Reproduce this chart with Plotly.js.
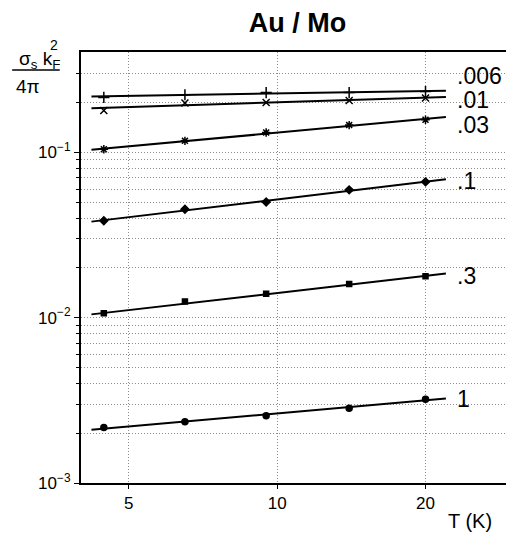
<!DOCTYPE html>
<html><head><meta charset="utf-8">
<script src="https://cdn.plot.ly/plotly-3.0.1.min.js"></script>
<style>html,body{margin:0;padding:0;overflow:hidden;background:#fff}</style>
</head><body><div id="chart" style="width:506px;height:535px"></div>
<script>
// Temperatures (K)
var T = [4.45, 6.5, 9.5, 14, 20];
var fitT = [4.2, 22];
// series labels
var seriesLabels = ['.006', '.01', '.03', '.1', '.3', '1'];
// measured values
var v006 = [0.215, 0.223, 0.230, 0.230, 0.233];
var v01  = [0.179, 0.199, 0.200, 0.206, 0.213];
var v03  = [0.1045, 0.1174, 0.1318, 0.1462, 0.1574];
var v1   = [0.0386, 0.0453, 0.0501, 0.0593, 0.0663];
var v3   = [0.01065, 0.01254, 0.01394, 0.01596, 0.01778];
var v10  = [0.00217, 0.00235, 0.002555, 0.00283, 0.00321];
// fitted lines (values at fitT)
var f006 = [0.218, 0.236];
var f01  = [0.185, 0.216];
var f03  = [0.1036, 0.1634];
var f1   = [0.0381, 0.0688];
var f3   = [0.01047, 0.01848];
var f10  = [0.00210, 0.00324];
// label anchor values
var labelY = [0.288, 0.208, 0.1465, 0.0675, 0.01796, 0.00321];
var labelT = 23.0;
// axis ticks
var xTicks = [5, 10, 20];
var xTickText = ['5', '10', '20'];
var yTicks = [0.001, 0.01, 0.1];
var yTickText = ['10<sup>\u22123</sup>', '10<sup>\u22122</sup>', '10<sup>\u22121</sup>'];
var yMinor = [0.002,0.003,0.004,0.005,0.006,0.007,0.008,0.009,
              0.02,0.03,0.04,0.05,0.06,0.07,0.08,0.09,0.2,0.3];

var vals = [v006, v01, v03, v1, v3, v10];
var fits = [f006, f01, f03, f1, f3, f10];
var symbols = ['cross-thin', 'x-thin', 'asterisk-open', 'diamond', 'square', 'circle'];
var sizes = [8, 7, 7, 6, 5, 6];

var traces = [];
for (var i = 0; i < vals.length; i++) {
  traces.push({x: fitT, y: fits[i], mode: 'lines', type: 'scatter',
    line: {color: '#000', width: 2}, hoverinfo: 'skip', showlegend: false});
  traces.push({x: T, y: vals[i], mode: 'markers', type: 'scatter', name: seriesLabels[i],
    marker: {symbol: symbols[i], size: sizes[i], color: '#000',
      line: {color: '#000', width: 1.5}}, showlegend: false});
}

var FONT = 'Liberation Sans, Arial, Helvetica, sans-serif';
var annotations = [];
for (var j = 0; j < seriesLabels.length; j++) {
  annotations.push({x: Math.log10(labelT), y: Math.log10(labelY[j]), xref: 'x', yref: 'y',
    text: seriesLabels[j], showarrow: false, xanchor: 'left', yanchor: 'middle',
    font: {family: FONT, size: 23, color: '#000'}});
}
// axis titles
annotations.push({xref: 'paper', yref: 'paper', x: 0.915, y: -0.088, text: 'T (K)',
  showarrow: false, xanchor: 'center', yanchor: 'middle', font: {family: FONT, size: 20, color: '#000'}});
annotations.push({xref: 'paper', yref: 'paper', x: -0.045, y: 1.0 + (52 - 60) / 431,
  text: '\u03c3<sub>s</sub> k<sub>F</sub>', showarrow: false, xanchor: 'right', yanchor: 'middle',
  font: {family: FONT, size: 19, color: '#000'}});
annotations.push({xref: 'paper', yref: 'paper', x: -0.063, y: 1.0 + (52 - 45) / 431,
  text: '2', showarrow: false, xanchor: 'center', yanchor: 'middle',
  font: {family: FONT, size: 14, color: '#000'}});
annotations.push({xref: 'paper', yref: 'paper', x: -0.125, y: 1.0 + (52 - 86) / 431,
  text: '4\u03c0', showarrow: false, xanchor: 'center', yanchor: 'middle',
  font: {family: FONT, size: 19, color: '#000'}});

var GRID = '#8c8c8c';
var layout = {
  width: 506, height: 535,
  margin: {l: 81, r: 0, t: 52, b: 52},
  paper_bgcolor: '#fff', plot_bgcolor: '#fff',
  font: {family: FONT, color: '#000'},
  title: {text: '<b>Au / Mo</b>', font: {family: FONT, size: 27, color: '#000'},
    x: 0.588, xanchor: 'center', xref: 'container', y: 1 - 23 / 535, yanchor: 'middle', yref: 'container'},
  xaxis: {type: 'log', range: [Math.log10(4.0), Math.log10(29.13)],
    tickmode: 'array', tickvals: xTicks, ticktext: xTickText,
    ticks: 'outside', ticklen: 4, tickwidth: 1, tickcolor: '#000',
    showline: true, linecolor: '#000', linewidth: 2, mirror: true,
    showgrid: true, gridcolor: GRID, griddash: '1px,2px', gridwidth: 1,
    zeroline: false, tickfont: {family: FONT, size: 17, color: '#000'}},
  yaxis: {type: 'log', range: [-3, -0.393],
    tickmode: 'array', tickvals: yTicks, ticktext: yTickText,
    ticks: 'outside', ticklen: 5, tickwidth: 1, tickcolor: '#000',
    showline: true, linecolor: '#000', linewidth: 2,
    showgrid: true, gridcolor: GRID, griddash: '1px,2px', gridwidth: 1,
    minor: {tickmode: 'array', tickvals: yMinor, ticks: 'outside', ticklen: 3, tickcolor: '#000',
      showgrid: true, gridcolor: GRID, griddash: '1px,2px', gridwidth: 1},
    zeroline: false, tickfont: {family: FONT, size: 17, color: '#000'}},
  annotations: annotations,
  shapes: [{type: 'line', xref: 'paper', yref: 'paper',
    x0: -0.162, x1: -0.05, y0: 1.0 + (52 - 70) / 431, y1: 1.0 + (52 - 70) / 431,
    line: {color: '#000', width: 1.5}}]
};

Plotly.newPlot('chart', traces, layout, {displayModeBar: false, staticPlot: true});
</script></body></html>
